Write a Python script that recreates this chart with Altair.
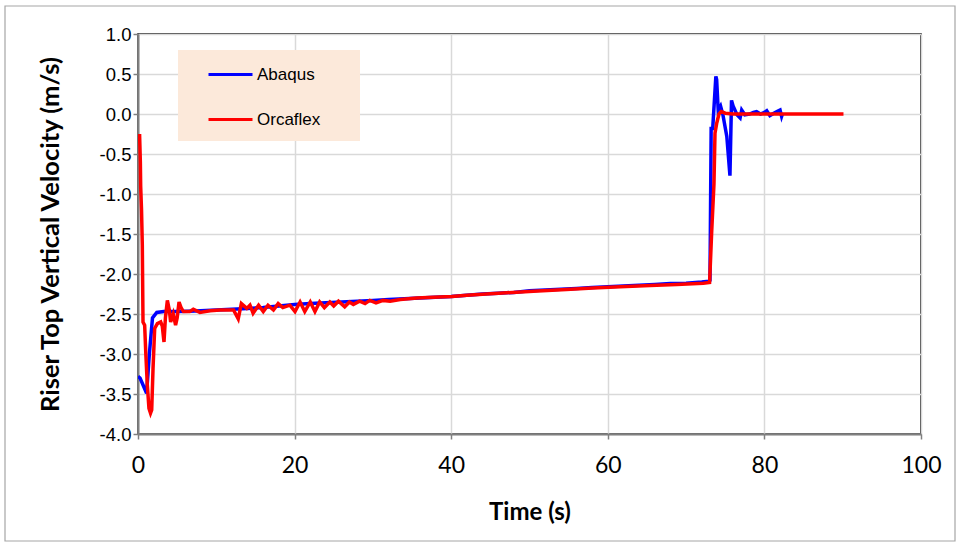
import altair as alt
import pandas as pd

# ---- data ----
abaqus_t = [0.0, 0.26, 1.1, 1.45, 1.85, 2.4, 3.3, 5.0, 6.5, 8.0, 10.0, 12.0, 14.0, 16.0, 18.0,
            20.0, 22.0, 24.0, 26.0, 28.0, 30.0, 32.0, 34.0, 36.0, 38.0, 40.0, 42.0, 44.0, 46.0,
            48.0, 50.0, 52.0, 54.0, 56.0, 58.0, 60.0, 62.0, 64.0, 66.0, 68.0, 70.0, 72.0, 72.9,
            73.05, 73.2, 73.4, 73.8, 73.9, 74.1, 74.4, 74.7, 75.2, 75.6, 75.8, 76.0, 76.5, 76.9,
            77.1, 77.5, 78.1, 78.6, 79.0, 79.5, 80.0, 80.3, 80.7, 81.2, 81.6, 82.0, 82.2, 82.3]
abaqus_v = [-3.28, -3.30, -3.49, -3.00, -2.55, -2.48, -2.47, -2.47, -2.465, -2.46, -2.45, -2.44,
            -2.43, -2.42, -2.40, -2.38, -2.37, -2.36, -2.35, -2.34, -2.33, -2.32, -2.31, -2.30,
            -2.29, -2.28, -2.265, -2.25, -2.24, -2.23, -2.21, -2.20, -2.19, -2.18, -2.17, -2.16,
            -2.15, -2.14, -2.13, -2.12, -2.115, -2.10, -2.09, -2.08, -0.18, -0.18, 0.47, 0.43,
            0.05, 0.10, -0.01, -0.28, -0.77, 0.17, 0.10, -0.01, -0.05, 0.05, -0.01, 0.0, 0.02,
            0.03, 0.0, 0.02, 0.04, -0.02, 0.01, 0.03, 0.05, -0.03, 0.0]

orcaflex_t = [0.2, 0.3, 0.34, 0.45, 0.55, 0.64, 0.85, 1.0, 1.19, 1.4, 1.6, 1.75, 1.92, 2.13, 2.47,
              2.9, 3.1, 3.32, 3.5, 3.75, 4.0, 4.17, 4.5, 4.8, 5.0, 5.24, 5.5, 5.8, 6.6, 7.06, 7.9,
              9.2, 10.5, 12.2, 12.8, 13.2, 13.9, 14.3, 14.7, 15.4, 16.0, 16.6, 17.3, 17.9, 18.5,
              19.4, 20.05, 20.7, 21.3, 22.0, 22.6, 23.2, 23.8, 24.5, 25.0, 25.6, 26.4, 27.0, 27.5,
              28.3, 29.0, 29.6, 30.4, 31.3, 32.2, 33.5, 35.6, 37.7, 40.1, 42.0, 44.5, 47.1, 50.5,
              54.7, 58.1, 61.6, 65.4, 68.8, 72.2, 73.0, 73.26, 73.56, 73.69, 73.9, 74.2, 74.5,
              75.0, 76.0, 90.1]
orcaflex_v = [-0.25, -0.60, -0.90, -1.20, -1.64, -2.60, -2.64, -3.00, -3.39, -3.68, -3.74, -3.70,
              -3.18, -2.68, -2.62, -2.60, -2.65, -2.85, -2.55, -2.33, -2.45, -2.60, -2.50, -2.64,
              -2.55, -2.35, -2.42, -2.47, -2.47, -2.44, -2.48, -2.46, -2.45, -2.45, -2.56, -2.37,
              -2.43, -2.39, -2.49, -2.39, -2.47, -2.39, -2.45, -2.37, -2.42, -2.39, -2.47, -2.35,
              -2.47, -2.35, -2.47, -2.35, -2.42, -2.35, -2.40, -2.34, -2.41, -2.35, -2.38, -2.34,
              -2.37, -2.33, -2.36, -2.33, -2.34, -2.32, -2.30, -2.29, -2.28, -2.265, -2.25, -2.235,
              -2.215, -2.195, -2.175, -2.16, -2.145, -2.13, -2.115, -2.105, -1.49, -0.87, -0.24,
              -0.12, 0.0, 0.03, 0.01, 0.0, 0.0]

series_names = ["Abaqus", "Orcaflex"]
series_colors = ["#0000FF", "#FF0000"]
x_ticks = [0, 20, 40, 60, 80, 100]
y_ticks = [-4.0, -3.5, -3.0, -2.5, -2.0, -1.5, -1.0, -0.5, 0.0, 0.5, 1.0]

df_a = pd.DataFrame({"t": abaqus_t, "v": abaqus_v, "series": "Abaqus"})
df_o = pd.DataFrame({"t": orcaflex_t, "v": orcaflex_v, "series": "Orcaflex"})

W, H = 783, 400

x_enc = alt.X("t:Q", scale=alt.Scale(domain=[0, 100], nice=False),
              axis=alt.Axis(values=x_ticks, title="Time (s)", format="d", labelFlush=False,
                            labelFont="Lato", labelFontSize=23, labelPadding=15,
                            titleFont="Lato", titleFontSize=24, titleFontWeight="bold",
                            titleX=W / 2, titleY=78, titleBaseline="middle"))
y_enc = alt.Y("v:Q", scale=alt.Scale(domain=[-4, 1], nice=False),
              axis=alt.Axis(values=y_ticks, title="Riser Top Vertical Velocity (m/s)",
                            labelExpr="replace(format(datum.value, '.1f'), '\u2212', '-')",
                            labelFont="Liberation Sans", labelFontSize=18.5, labelPadding=2,
                            titleFont="Lato", titleFontSize=25.5, titleFontWeight="bold",
                            titleX=-88, titleY=H / 2, titleBaseline="middle", titleAlign="center"))
# invisible spacer title widens the legend box to match the reference panel
color_enc = alt.Color("series:N",
                      scale=alt.Scale(domain=series_names, range=series_colors),
                      legend=alt.Legend(title="M" * 22, titleOrient="bottom", titleFontSize=9.8,
                                        titleFont="Liberation Sans", titleFontWeight="normal",
                                        titlePadding=2, titleLimit=500, titleOpacity=0,
                                        orient="none", legendX=40, legendY=16,
                                        fillColor="#FCE9DA", padding=1,
                                        symbolType="stroke", symbolSize=1936,
                                        symbolStrokeWidth=3, symbolOffset=28,
                                        labelOffset=3, rowPadding=13,
                                        labelFont="Liberation Sans", labelFontSize=17,
                                        labelColor="#000000"))

line_a = alt.Chart(df_a).mark_line(strokeWidth=3.5, clip=True).encode(x=x_enc, y=y_enc, color=color_enc)
line_o = alt.Chart(df_o).mark_line(strokeWidth=3.5, clip=True).encode(x=x_enc, y=y_enc, color=color_enc)

frame = alt.Chart(alt.Data(values=[{}])).mark_rect(fill=None, stroke="#a6a6a6", strokeWidth=1.2).encode(
    x=alt.value(-133), x2=alt.value(817), y=alt.value(-28), y2=alt.value(507))

chart = alt.layer(frame, line_a, line_o).properties(
    width=W, height=H,
    autosize=alt.AutoSizeParams(type="none"),
    padding={"left": 138, "top": 34, "right": 35, "bottom": 109},
    background="white",
).configure_view(
    stroke="#000000", strokeWidth=1.5
).configure_axis(
    grid=True, gridColor="#d9d9d9", gridWidth=1.5,
    domainColor="#808080", domainWidth=2,
    tickColor="#808080", tickSize=5, tickWidth=1.5,
    labelColor="#000000", titleColor="#000000",
)

chart.save("out.html", embed_options={"renderer": "svg", "actions": False})
